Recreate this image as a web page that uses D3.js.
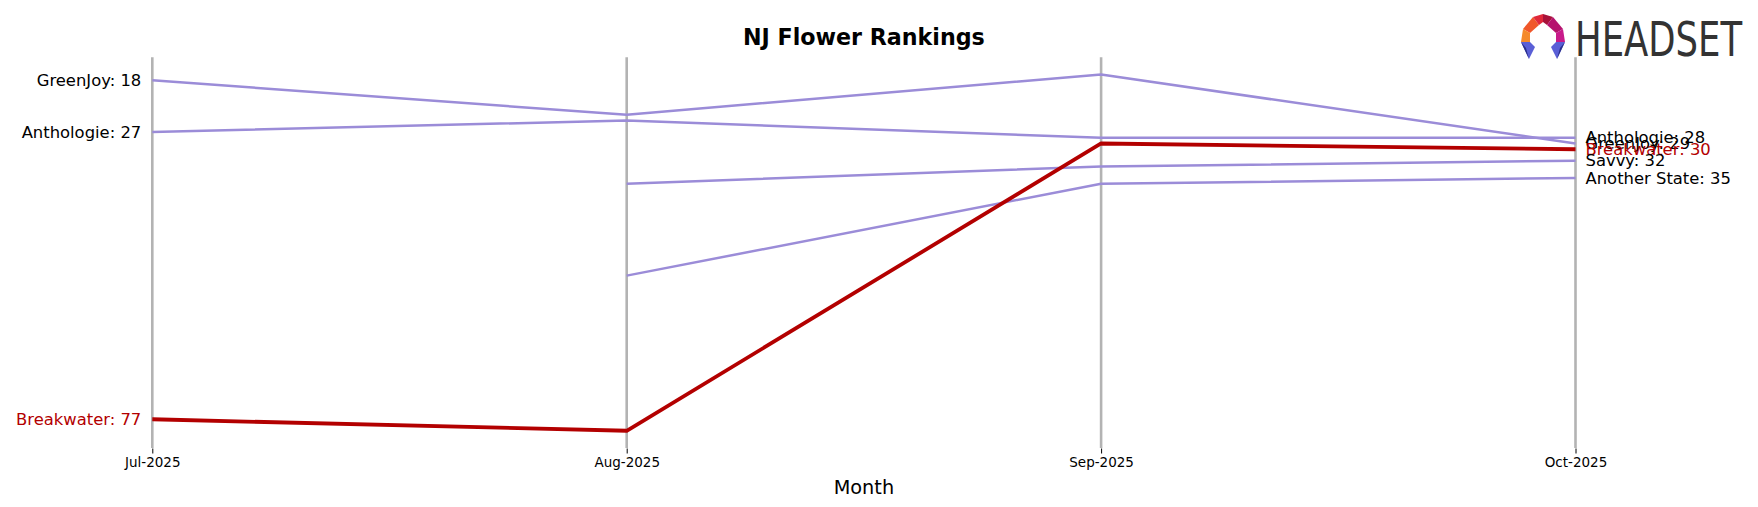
<!DOCTYPE html>
<html>
<head>
<meta charset="utf-8">
<script src="https://cdn.jsdelivr.net/npm/d3@7/dist/d3.min.js"></script>
<style>
  html, body { margin: 0; padding: 0; background: #fff; }
  svg { display: block; font-family: "DejaVu Sans", sans-serif; }
</style>
</head>
<body>
<svg id="chart" width="1758" height="507"></svg>
<script>
// ---- data ----
const months = ["Jul-2025", "Aug-2025", "Sep-2025", "Oct-2025"];
const brands = ["GreenJoy", "Anthologie", "Savvy", "Another State", "Breakwater"];
const greenJoy = [18, 24, 17, 29];
const anthologie = [27, 25, 28, 28];
const savvy = [null, 36, 33, 32];
const anotherState = [null, 52, 36, 35];
const breakwater = [77, 79, 29, 30];
const highlight = "Breakwater";
const title = "NJ Flower Rankings";
const xLabel = "Month";

const seriesValues = {
  "GreenJoy": greenJoy,
  "Anthologie": anthologie,
  "Savvy": savvy,
  "Another State": anotherState,
  "Breakwater": breakwater
};

// ---- layout ----
const svg = d3.select("#chart");
const plotLeft = 152.3, plotRight = 1575.5, plotTop = 57.3, plotBottom = 448;
const purple = "#9b8cd8";
const red = "#b30000";

const x = d3.scalePoint().domain(months).range([plotLeft, plotRight]);
const y = d3.scaleLinear().domain([14, 82]).range([plotTop, plotBottom]);

// vertical month axes
svg.append("g").selectAll("line.vax").data(months).join("line")
  .attr("class", "vax")
  .attr("x1", d => x(d)).attr("x2", d => x(d))
  .attr("y1", plotTop).attr("y2", plotBottom)
  .attr("stroke", "#b3b3b3").attr("stroke-width", 2.6);

// bottom axis with ticks
const xAxis = d3.axisBottom(x).tickSize(5).tickPadding(4);
const gx = svg.append("g").attr("transform", `translate(0,${plotBottom + 0.5})`).call(xAxis);
gx.select(".domain").remove();
gx.selectAll(".tick line").attr("stroke", "#000").attr("stroke-width", 1);
gx.selectAll(".tick text")
  .attr("font-family", "DejaVu Sans, sans-serif")
  .attr("font-size", 13.5).attr("fill", "#000");

// x label
svg.append("text")
  .attr("x", (plotLeft + plotRight) / 2).attr("y", 494)
  .attr("text-anchor", "middle")
  .attr("font-size", 19.3).attr("fill", "#000")
  .text(xLabel);

// title
svg.append("text")
  .attr("x", (plotLeft + plotRight) / 2).attr("y", 44.5)
  .attr("text-anchor", "middle")
  .attr("font-size", 22.2).attr("font-weight", "bold").attr("fill", "#000")
  .text(title);

// lines
const line = d3.line()
  .defined(d => d.v != null)
  .x(d => x(d.m))
  .y(d => y(d.v));

const order = brands.filter(b => b !== highlight).concat([highlight]);
const gLines = svg.append("g");
order.forEach(b => {
  const pts = months.map((m, i) => ({ m, v: seriesValues[b][i] }));
  gLines.append("path")
    .datum(pts)
    .attr("d", line)
    .attr("fill", "none")
    .attr("stroke", b === highlight ? red : purple)
    .attr("stroke-width", b === highlight ? 3.8 : 2.5)
    .attr("stroke-linejoin", "round");
});

// left labels (first month value present)
const gLab = svg.append("g").attr("font-size", 16.4);
brands.forEach(b => {
  const v = seriesValues[b][0];
  if (v == null) return;
  gLab.append("text")
    .attr("x", x(months[0]) - 11)
    .attr("y", y(v))
    .attr("dy", "0.35em")
    .attr("text-anchor", "end")
    .attr("fill", b === highlight ? red : "#000")
    .text(`${b}: ${v}`);
});

// right labels (last month)
const rightOrder = ["Anthologie", "GreenJoy", "Breakwater", "Savvy", "Another State"];
rightOrder.forEach(b => {
  const v = seriesValues[b][months.length - 1];
  if (v == null) return;
  gLab.append("text")
    .attr("x", x(months[months.length - 1]) + 10)
    .attr("y", y(v))
    .attr("dy", "0.35em")
    .attr("text-anchor", "start")
    .attr("fill", b === highlight ? red : "#000")
    .text(`${b}: ${v}`);
});

// HEADSET logo (decoration)
const logo = svg.append("g").attr("transform", "translate(1543,38)");
const polys = [
  { p: "M-20,-9 L-10,-21 L-4,-13 L-13,-5 Z", c: "#f0572a" },
  { p: "M-10,-21 L0,-24 L0,-16 L-4,-13 Z", c: "#e0283a" },
  { p: "M0,-24 L10,-21 L4,-13 L0,-16 Z", c: "#a8123a" },
  { p: "M10,-21 L20,-9 L13,-5 L4,-13 Z", c: "#b5136e" },
  { p: "M-20,-9 L-13,-5 L-13,4 L-22,4 Z", c: "#f58a2a" },
  { p: "M20,-9 L22,4 L13,4 L13,-5 Z", c: "#c81a8a" },
  { p: "M-22,4 L-13,4 L-8,9 L-14,21 Z", c: "#5a5fd6" },
  { p: "M22,4 L13,4 L8,9 L14,21 Z", c: "#5a5fd6" },
  { p: "M-22,4 L-14,21 L-17,10 Z", c: "#2a2f8a" },
  { p: "M22,4 L14,21 L17,10 Z", c: "#2a2f8a" }
];
logo.selectAll("path").data(polys).join("path")
  .attr("d", d => d.p).attr("fill", d => d.c);
svg.append("text")
  .attr("x", 1575).attr("y", 56)
  .attr("font-family", "DejaVu Sans Condensed, DejaVu Sans, sans-serif")
  .attr("font-size", 48)
  .attr("textLength", 167).attr("lengthAdjust", "spacingAndGlyphs")
  .attr("fill", "#333333")
  .text("HEADSET");
</script>
</body>
</html>
